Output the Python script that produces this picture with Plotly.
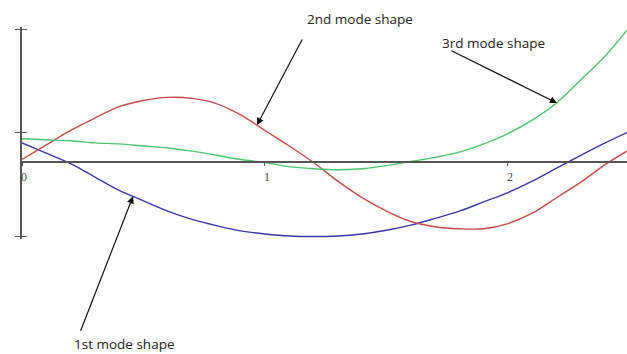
import plotly.graph_objects as go

# beam length positions
x_pos = [0.0, 0.1, 0.2, 0.3, 0.4, 0.5, 0.6, 0.7, 0.8, 0.9, 1.0, 1.1, 1.2,
         1.3, 1.4, 1.5, 1.6, 1.7, 1.8, 1.9, 2.0, 2.1, 2.2, 2.3, 2.4, 2.49]

# mode shape amplitudes
mode1 = [0.18, 0.08, -0.02, -0.15, -0.28, -0.38, -0.48, -0.56, -0.62, -0.67,
         -0.70, -0.72, -0.725, -0.72, -0.70, -0.665, -0.615, -0.55, -0.48, -0.39,
         -0.30, -0.19, -0.065, 0.06, 0.18, 0.28]
mode2 = [0.02, 0.16, 0.30, 0.42, 0.53, 0.59, 0.62, 0.61, 0.56, 0.45,
         0.30, 0.15, -0.01, -0.19, -0.35, -0.48, -0.58, -0.63, -0.65, -0.65,
         -0.60, -0.50, -0.35, -0.20, -0.03, 0.10]
mode3 = [0.22, 0.21, 0.20, 0.18, 0.17, 0.15, 0.13, 0.10, 0.06, 0.02,
         -0.01, -0.05, -0.07, -0.08, -0.07, -0.04, 0.00, 0.04, 0.09, 0.17,
         0.27, 0.40, 0.565, 0.79, 1.02, 1.27]

x_ticks = [0, 1, 2]
y_ticks = [-0.72, 0.28, 1.28]

colors = {"mode1": "#3838a8", "mode2": "#c44a48", "mode3": "#4cc46c"}

fig = go.Figure()
for name, ys in [("mode1", mode1), ("mode2", mode2), ("mode3", mode3)]:
    fig.add_trace(go.Scatter(x=x_pos, y=ys, mode="lines", line_shape="spline",
                             line=dict(color=colors[name], width=1.4),
                             showlegend=False, hoverinfo="skip"))

y_range = [-0.749, 1.30]

fig.update_layout(
    width=627, height=354,
    margin=dict(l=22, r=0, t=27, b=115),
    paper_bgcolor="white", plot_bgcolor="white",
    xaxis=dict(range=[0, 2.49], anchor="free", automargin=False,
               position=(0 - y_range[0]) / (y_range[1] - y_range[0]),
               showline=True, linecolor="#555", linewidth=1.5,
               showgrid=False, zeroline=False,
               tickvals=x_ticks, ticks="outside", ticklen=4, tickcolor="#555",
               ticklabelshift=2,
               tickfont=dict(family="Liberation Serif", size=12, color="#444")),
    yaxis=dict(range=y_range, automargin=False, showline=True, linecolor="#555",
               linewidth=1.5, showgrid=False, zeroline=False, tickvals=y_ticks,
               ticks="outside", ticklen=5, tickcolor="#555", showticklabels=False),
    yaxis2=dict(range=y_range, automargin=False, overlaying="y", side="left",
                showline=False, showgrid=False, zeroline=False, tickvals=y_ticks,
                ticks="inside", ticklen=5, tickcolor="#555", showticklabels=False),
)
# dummy trace so the second axis draws its ticks
fig.add_trace(go.Scatter(x=[None], y=[None], yaxis="y2", showlegend=False))

label_font = dict(family="Open Sans", size=13.5, color="#222")
arrow_style = dict(showarrow=True, arrowhead=2, arrowsize=1.2, arrowwidth=1.2,
                   arrowcolor="#111", standoff=0, text="")

# arrows pointing at each curve
fig.add_annotation(x=0.457, y=-0.336, ax=-53, ay=136, **arrow_style)
fig.add_annotation(x=0.967, y=0.352, ax=46, ay=-87, **arrow_style)
fig.add_annotation(x=2.202, y=0.565, ax=-107, ay=-53, **arrow_style)

# labels
for text, px, py in [("1st mode shape", 0.170, -0.493),
                     ("2nd mode shape", 0.559, 1.038),
                     ("3rd mode shape", 0.779, 0.925)]:
    fig.add_annotation(text=text, xref="paper", yref="paper", x=px, y=py,
                       xanchor="center", yanchor="middle",
                       showarrow=False, font=label_font)

# drop the default page margin so the figure fills the window
fig.write_html("out.html", config={"displayModeBar": False},
               post_script="document.body.style.margin='0';"
                           "document.body.style.overflow='hidden';")
